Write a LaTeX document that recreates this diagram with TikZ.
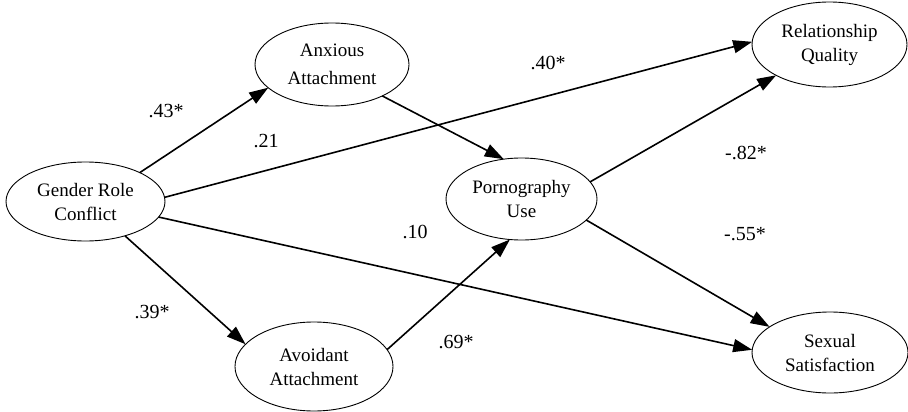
\documentclass[tikz,border=0pt]{standalone}
\usepackage{fontspec}
\setmainfont{Liberation Serif}
\usetikzlibrary{shapes.geometric,arrows.meta}
\begin{document}
\begin{tikzpicture}[x=1pt,y=-1pt,
  var/.style={ellipse,draw,line width=0.9pt,inner sep=0pt,outer sep=0pt,align=center,font=\fontsize{19}{24}\selectfont},
  pathline/.style={line width=1.6pt,-{Triangle[length=19pt,width=13pt]}},
  coef/.style={font=\fontsize{20}{24}\selectfont,inner sep=0pt}]
\useasboundingbox (0,0) rectangle (908,412);
\node[var,minimum width=159pt,minimum height=79pt] (grc) at (85.5,201.5) {Gender Role\\Conflict};
\node[var,minimum width=154pt,minimum height=83pt] (anx) at (332,64.5) {Anxious\\[4pt]Attachment};
\node[var,minimum width=151pt,minimum height=82pt] (porn) at (521.5,199) {Pornography\\Use};
\node[var,minimum width=155pt,minimum height=85pt] (rq) at (829.5,44.5) {Relationship\\Quality};
\node[var,minimum width=158pt,minimum height=89pt] (avd) at (314,366.5) {Avoidant\\Attachment};
\node[var,minimum width=156pt,minimum height=81pt] (ss) at (830,352.5) {Sexual\\Satisfaction};

\draw[pathline] (grc.28) -- (anx.200);
\draw[pathline] (grc.-41.5) -- (avd.162.5);
\draw[pathline] (grc.3.3) -- (rq.178.9);
\draw[pathline] (grc.-12.3) -- (ss.178.2);
\draw[pathline] (anx.-32) -- (porn.114);
\draw[pathline] (avd.13.4) -- (porn.254);
\draw[pathline] (porn.14.5) -- (rq.210.3);
\draw[pathline] (porn.-18.6) -- (ss.157);

\node[coef] (c1) at (166,111) {.43*};
\node[coef] (c2) at (266,141) {.21};
\node[coef] (c3) at (548,63) {.40*};
\node[coef] (c4) at (152,312) {.39*};
\node[coef] (c5) at (456,342) {.69*};
\node[coef] (c6) at (415,232) {.10};
\node[coef] (c7) at (746,153) {-.82*};
\node[coef] (c8) at (745,234) {-.55*};
\end{tikzpicture}
\end{document}
